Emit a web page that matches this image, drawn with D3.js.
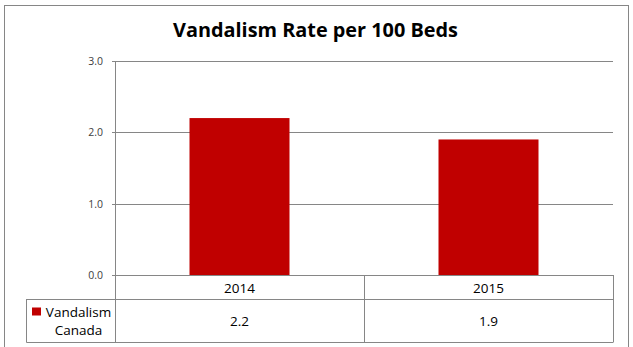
<!DOCTYPE html>
<html><head><meta charset="utf-8">
<script src="https://cdn.jsdelivr.net/npm/d3@7"></script>
<style>body{margin:0;background:#fff;} svg{display:block;}</style>
</head><body>
<svg id="c" width="633" height="347"></svg>
<script>
const title = "Vandalism Rate per 100 Beds";
const categories = ["2014", "2015"];
const seriesName = ["Vandalism", "Canada"];
const values = [2.2, 1.9];
const yTicks = [0, 1, 2, 3];

const svg = d3.select("#c");
const gridColor = "#868686";
const textColor = "#404040";
const barColor = "#C00000";
const font = "'Open Sans', sans-serif";

// outer frame
svg.append("rect").attr("x", 4.5).attr("y", 5.5).attr("width", 624).attr("height", 350)
  .attr("fill", "none").attr("stroke", gridColor).attr("stroke-width", 1);

const x0 = 115, x1 = 613, yTop = 61, yBase = 275, rowMid = 299, rowBot = 342, tableLeft = 26.5;

const x = d3.scaleBand().domain(categories).range([x0, x1]).paddingInner(0).paddingOuter(0);
const y = d3.scaleLinear().domain([0, 3]).range([yBase, yTop]);

// title
const t = svg.append("text").attr("x", 315.5).attr("y", 37).attr("text-anchor", "middle")
  .attr("font-family", font).attr("font-weight", "bold").attr("font-size", 20)
  .attr("fill", "#000").text(title);
t.attr("textLength", 285).attr("lengthAdjust", "spacingAndGlyphs");

// gridlines
svg.append("g").selectAll("line").data(yTicks).join("line")
  .attr("x1", x0 - 3).attr("x2", x1)
  .attr("y1", d => Math.round(y(d)) + 0.5).attr("y2", d => Math.round(y(d)) + 0.5)
  .attr("stroke", gridColor).attr("stroke-width", 1);

// tick labels
svg.append("g").selectAll("text").data(yTicks).join("text")
  .attr("x", 103).attr("y", d => y(d) + 4).attr("text-anchor", "end")
  .attr("font-family", font).attr("font-size", 10.5).attr("fill", textColor)
  .text(d => d3.format(".1f")(d));

// bars
const barW = 100;
svg.append("g").selectAll("rect").data(values).join("rect")
  .attr("x", (d, i) => x(categories[i]) + x.bandwidth() / 2 - barW / 2)
  .attr("width", barW)
  .attr("y", d => y(d)).attr("height", d => yBase - y(d))
  .attr("fill", barColor);

// y axis line extends through table
svg.append("line").attr("x1", x0 + 0.5).attr("x2", x0 + 0.5).attr("y1", yTop).attr("y2", rowBot)
  .attr("stroke", gridColor);

// data table
const tb = svg.append("g").attr("stroke", gridColor).attr("fill", "none");
categories.forEach((c, i) => {
  const xr = Math.round(x(c) + x.bandwidth()) + 0.5;
  tb.append("line").attr("x1", xr).attr("x2", xr).attr("y1", yBase).attr("y2", rowBot);
});
tb.append("line").attr("x1", tableLeft).attr("x2", x1).attr("y1", rowMid + 0.5).attr("y2", rowMid + 0.5);
tb.append("line").attr("x1", tableLeft).attr("x2", x1 + 0.5).attr("y1", rowBot + 0.5).attr("y2", rowBot + 0.5);
tb.append("line").attr("x1", tableLeft).attr("x2", tableLeft).attr("y1", rowMid).attr("y2", rowBot + 0.5);

// category labels
svg.append("g").selectAll("text").data(categories).join("text")
  .attr("x", d => x(d) + x.bandwidth() / 2).attr("y", 292.5).attr("text-anchor", "middle")
  .attr("font-family", font).attr("font-size", 13.5).attr("fill", "#000").text(d => d);

// values
svg.append("g").selectAll("text").data(values).join("text")
  .attr("x", (d, i) => x(categories[i]) + x.bandwidth() / 2).attr("y", 325.5).attr("text-anchor", "middle")
  .attr("font-family", font).attr("font-size", 13.5).attr("fill", "#000").text(d => d3.format(".1f")(d));

// legend key
svg.append("rect").attr("x", 32).attr("y", 307.5).attr("width", 9).attr("height", 8).attr("fill", barColor);
svg.append("g").selectAll("text").data(seriesName).join("text")
  .attr("x", 78.5).attr("y", (d, i) => 316.5 + i * 18.5).attr("text-anchor", "middle")
  .attr("font-family", font).attr("font-size", 13.5).attr("fill", "#000").text(d => d);
</script>
</body></html>
